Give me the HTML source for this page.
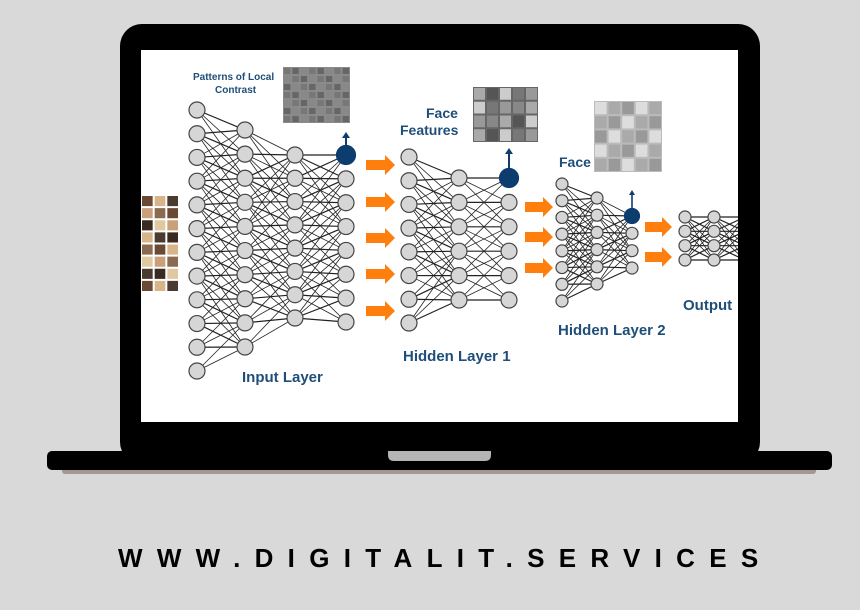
<!DOCTYPE html>
<html><head><meta charset="utf-8"><style>
html,body{margin:0;padding:0;background:#d9d9d9;width:860px;height:610px;overflow:hidden}
svg{display:block}
</style></head><body>
<svg id="s" width="860" height="610" xmlns="http://www.w3.org/2000/svg" font-family="Liberation Sans, sans-serif">
<rect width="860" height="610" fill="#d9d9d9"/>
<rect x="120" y="24" width="640" height="440" rx="22" fill="#000"/>
<rect x="141" y="50" width="597" height="372" fill="#fff"/>
<rect x="62" y="466" width="754" height="8" rx="3" fill="#a49690"/>
<rect x="47" y="451" width="785" height="19" rx="5" fill="#000"/>
<path d="M388 451 H491 V455 Q491 461 485 461 H394 Q388 461 388 455 Z" fill="#b4b4b4"/>
<g id="net"></g>
<g fill="#1f4e79" font-weight="bold">
<text x="193" y="80" font-size="10">Patterns of Local</text>
<text x="215" y="93" font-size="10">Contrast</text>
<text x="242" y="382" font-size="15">Input Layer</text>
<text x="426" y="118" font-size="14">Face</text>
<text x="400" y="135" font-size="14">Features</text>
<text x="403" y="361" font-size="15">Hidden Layer 1</text>
<text x="559" y="167" font-size="14">Face</text>
<text x="558" y="335" font-size="15">Hidden Layer 2</text>
<text x="683" y="310" font-size="15">Output</text>
</g>
<text x="118" y="567" font-size="26" font-weight="bold" fill="#000" letter-spacing="14.3">WWW.DIGITALIT.SERVICES</text>
</svg>
<script>
const g=document.getElementById('net');let h='';
function col(x,n,y0,y1){let a=[];for(let i=0;i<n;i++)a.push([x,n==1?y0:y0+(y1-y0)*i/(n-1)]);return a;}
function net(cols,r,blue){
 for(let c=0;c<cols.length-1;c++){const A=cols[c],B=cols[c+1];
  A.forEach((p,i)=>B.forEach((q,j)=>{const d=Math.abs(p[1]-q[1]);if(d<r*9)h+=`<line x1="${p[0]}" y1="${p[1]}" x2="${q[0]}" y2="${q[1]}" stroke="#222" stroke-width="${d<r*3?1.2:0.8}"/>`;}));}
 cols.forEach((cc,ci)=>cc.forEach((p,i)=>{const b=blue&&ci==cols.length-1&&i==0;
  h+=`<circle cx="${p[0]}" cy="${p[1]}" r="${b?r+1.5:r}" fill="${b?'#0d3c6e':'#d6d6d6'}" stroke="${b?'#0d3c6e':'#444'}" stroke-width="1.2"/>`;}));
}
net([col(197,12,110,371),col(245,10,130,347),col(295,8,155,318),col(346,8,155,322)],8,1);
h+=`<line x1="346" y1="145" x2="346" y2="137" stroke="#0d3c6e" stroke-width="2"/><path d="M342 138 L346 132 L350 138Z" fill="#0d3c6e"/>`;
net([col(409,8,157,323),col(459,6,178,300),col(509,6,178,300)],8,1);
h+=`<line x1="509" y1="168" x2="509" y2="153" stroke="#0d3c6e" stroke-width="2"/><path d="M505 154 L509 148 L513 154Z" fill="#0d3c6e"/>`;
net([col(562,8,184,301),col(597,6,198,284),col(632,4,216,268)],6,1);
h+=`<line x1="632" y1="208" x2="632" y2="194" stroke="#0d3c6e" stroke-width="1.6"/><path d="M629 195 L632 190 L635 195Z" fill="#0d3c6e"/>`;
net([col(685,4,217,260),col(714,4,217,260),col(745,4,217,260)],6,0);
function arr(x,y,w){h+=`<path d="M${x} ${y-5} H${x+w-10} V${y-10} L${x+w} ${y} L${x+w-10} ${y+10} V${y+5} H${x} Z" fill="#ff7f0e"/>`;}
[165,202,238,274,311].forEach(y=>arr(366,y,29));
[207,237,268].forEach(y=>arr(525,y,28));
[227,257].forEach(y=>arr(645,y,27));
function grid(x,y,w,hh,nx,ny,bg,cols){h+=`<rect x="${x}" y="${y}" width="${w}" height="${hh}" fill="${bg}"/>`;let k=0;
 for(let i=0;i<nx;i++)for(let j=0;j<ny;j++){k++;h+=`<rect x="${x+1+i*w/nx}" y="${y+1+j*hh/ny}" width="${w/nx-2}" height="${hh/ny-2}" fill="${cols[(k*7+i*3+j)%cols.length]}"/>`;}}
grid(141,195,38,97,3,8,'#fff',['#6b4a35','#c9a07a','#3a2a22','#d8b48a','#8a6a50','#e0c8a0','#4a3a30']);
grid(283,67,67,56,8,7,'#8a8a8a',['#999','#777','#aaa','#888','#bbb','#666']);
grid(473,87,65,55,5,4,'#666',['#888','#aaa','#555','#ccc','#777','#999']);
grid(594,101,68,71,5,5,'#bbb',['#888','#ddd','#777','#aaa','#eee','#999']);
h+=`<rect x="738" y="195" width="22" height="100" fill="#000"/>`;
g.innerHTML=h;
</script>
</body></html>
